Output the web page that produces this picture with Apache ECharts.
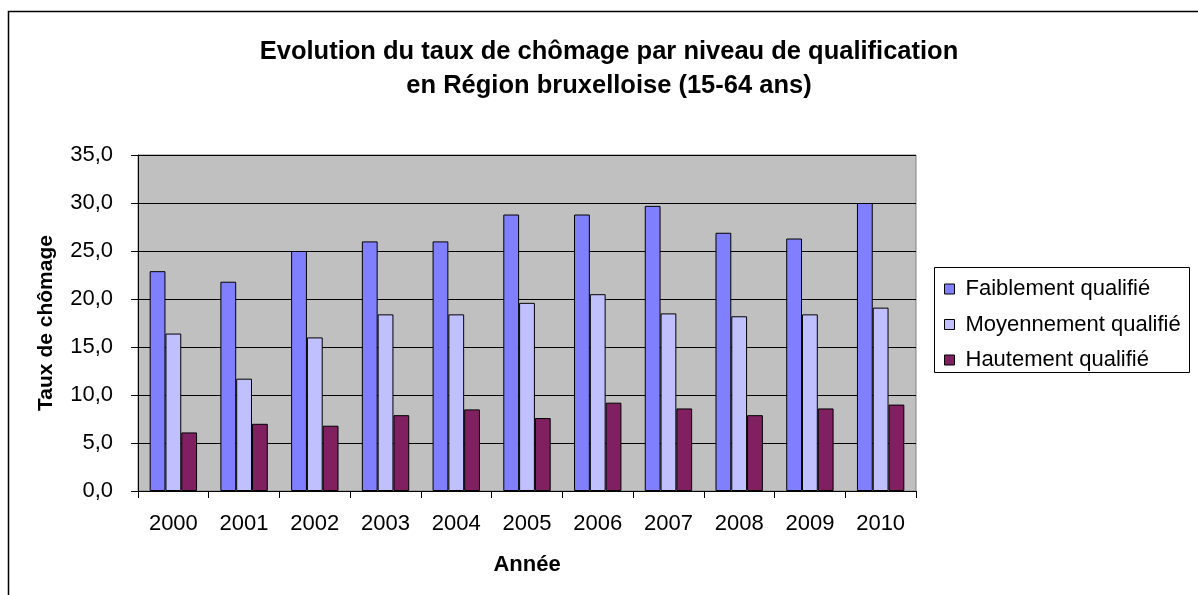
<!DOCTYPE html>
<html>
<head>
<meta charset="utf-8">
<script src="https://cdn.jsdelivr.net/npm/echarts@6/dist/echarts.min.js"></script>
<style>
  html, body { margin: 0; padding: 0; background: #fff; }
  #chart { width: 1198px; height: 595px; }
</style>
</head>
<body>
<div id="chart"></div>
<script>
// Données
var annees = ["2000", "2001", "2002", "2003", "2004", "2005", "2006", "2007", "2008", "2009", "2010"];
var faiblement = [22.9, 21.8, 25.0, 26.0, 26.0, 28.8, 28.8, 29.7, 26.9, 26.3, 30.0];
var moyennement = [16.4, 11.7, 16.0, 18.4, 18.4, 19.6, 20.5, 18.5, 18.2, 18.4, 19.1];
var hautement = [6.1, 7.0, 6.8, 7.9, 8.5, 7.6, 9.2, 8.6, 7.9, 8.6, 9.0];

var police = "Liberation Sans, Arial, sans-serif";
var chart = echarts.init(document.getElementById("chart"));

function serie(nom, couleur, valeurs) {
  return {
    name: nom,
    type: "bar",
    barGap: "0%",
    barCategoryGap: "33%",
    itemStyle: { color: couleur, borderColor: "#000", borderWidth: 1 },
    data: valeurs
  };
}

var option = {
  backgroundColor: "#fff",
  animation: false,
  textStyle: { fontFamily: police },
  title: {
    text: "Evolution du taux de chômage par niveau de qualification\nen Région bruxelloise (15-64 ans)",
    left: 604,
    top: 30,
    textAlign: "center",
    textStyle: { fontSize: 25.5, fontWeight: "bold", color: "#000", lineHeight: 34, fontFamily: police }
  },
  graphic: [
    // cadre extérieur (coupé à droite et en bas)
    {
      type: "rect",
      shape: { x: 8.5, y: 11.5, width: 1300, height: 700 },
      style: { fill: null, stroke: "#000", lineWidth: 1.5 },
      silent: true
    },
    // cadre de la légende
    {
      type: "rect",
      shape: { x: 934.5, y: 267.5, width: 255, height: 105 },
      style: { fill: null, stroke: "#000", lineWidth: 1 },
      silent: true
    }
  ],
  legend: {
    orient: "vertical",
    left: 944,
    top: 278,
    padding: 0,
    itemGap: 13.5,
    itemWidth: 10,
    itemHeight: 10,
    icon: "rect",
    textStyle: { fontSize: 22, lineHeight: 22, color: "#000", fontFamily: police, padding: [0, 0, 0, 6] },
    itemStyle: { borderColor: "#000", borderWidth: 1 }
  },
  grid: {
    left: 138,
    top: 155,
    width: 778,
    height: 336,
    show: true,
    backgroundColor: "#c0c0c0",
    borderColor: "#808080",
    borderWidth: 1
  },
  xAxis: {
    type: "category",
    data: annees,
    name: "Année",
    nameLocation: "middle",
    nameGap: 63,
    nameTextStyle: { fontSize: 22, fontWeight: "bold", color: "#000", fontFamily: police },
    axisLine: { lineStyle: { color: "#000", width: 1 } },
    axisTick: { show: true, alignWithLabel: false, length: 7, lineStyle: { color: "#000" } },
    axisLabel: { fontSize: 22, color: "#000", margin: 22, fontFamily: police }
  },
  yAxis: {
    type: "value",
    min: 0,
    max: 35,
    interval: 5,
    name: "Taux de chômage",
    nameLocation: "middle",
    nameGap: 81,
    nameTextStyle: { fontSize: 21, fontWeight: "bold", color: "#000", fontFamily: police },
    axisLine: { show: true, lineStyle: { color: "#000", width: 1 } },
    axisTick: { show: true, length: 7, lineStyle: { color: "#000" } },
    splitLine: { lineStyle: { color: "#000", width: 1 } },
    axisLabel: {
      fontSize: 22,
      color: "#000",
      margin: 25,
      fontFamily: police,
      formatter: function (v) { return v.toFixed(1).replace(".", ","); }
    }
  },
  series: [
    serie("Faiblement qualifié", "#8080ff", faiblement),
    serie("Moyennement qualifié", "#c0c0ff", moyennement),
    serie("Hautement qualifié", "#802060", hautement)
  ]
};

chart.setOption(option);
window.addEventListener("resize", function () { chart.resize(); });
</script>
</body>
</html>
